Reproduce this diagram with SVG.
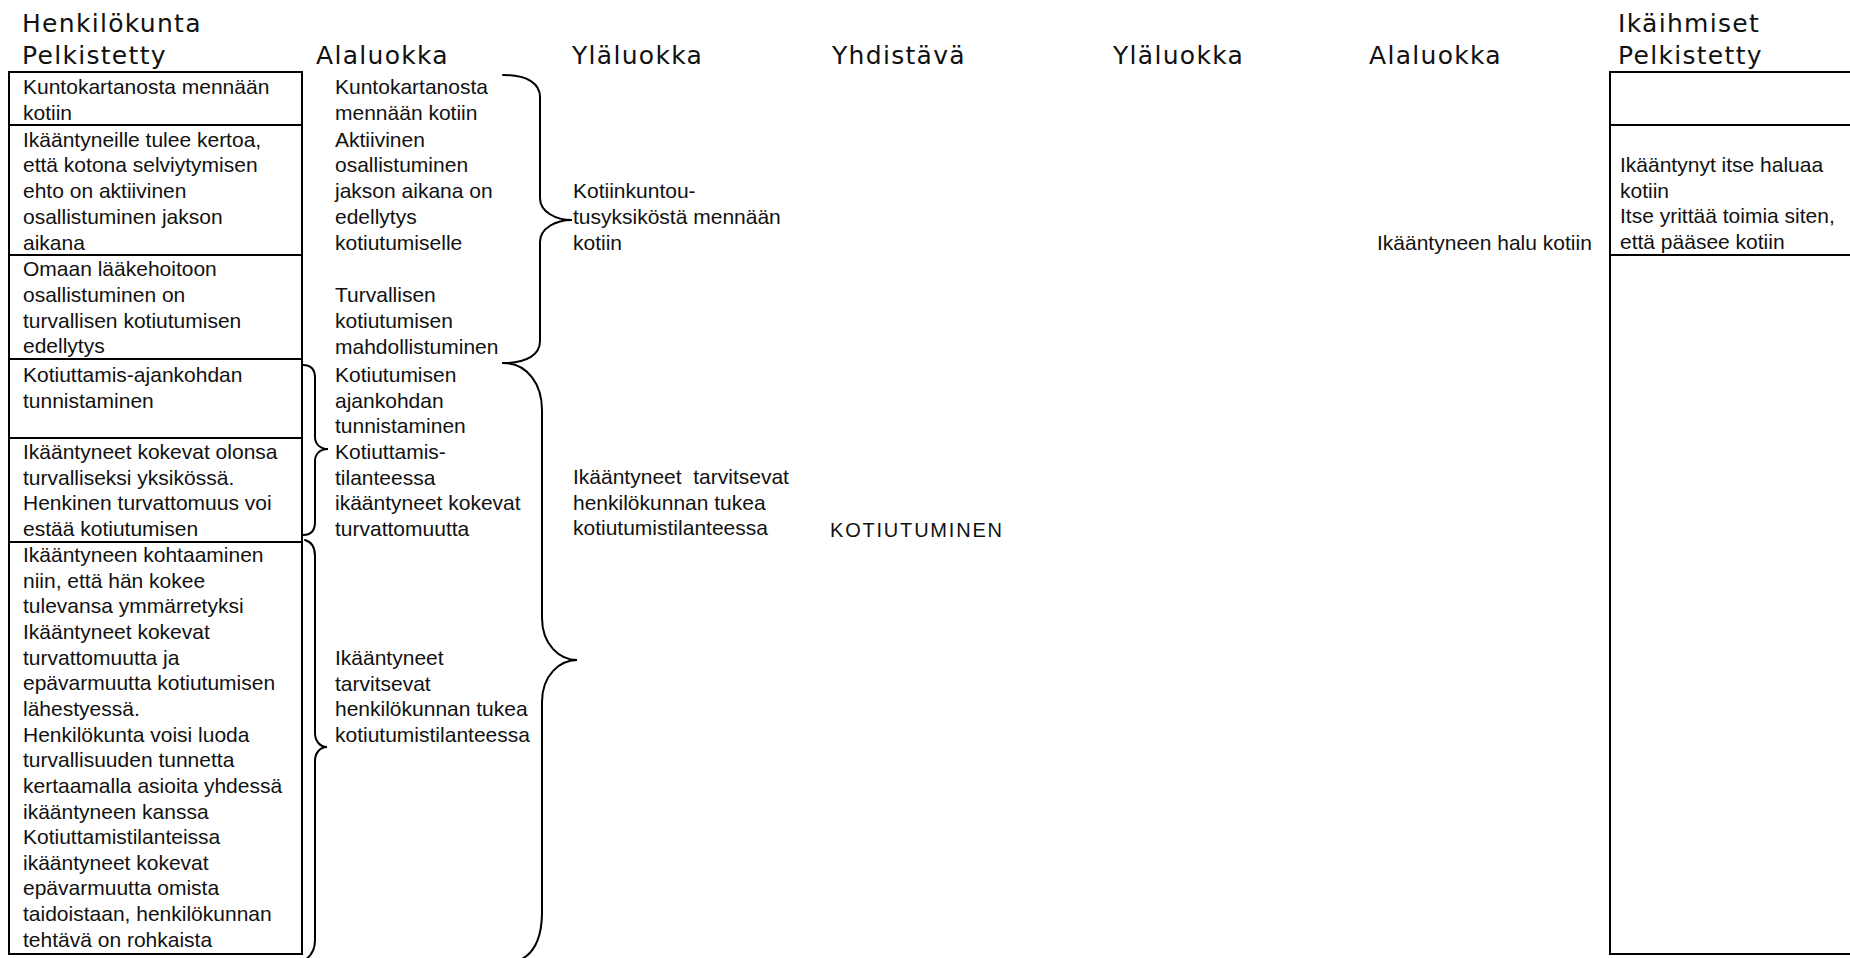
<svg xmlns="http://www.w3.org/2000/svg" width="1850" height="958" viewBox="0 0 1850 958">
  <style>
    .hd { font-family: "DejaVu Sans", "Liberation Sans", sans-serif; font-size: 25px; letter-spacing: 1.3px; fill: #111; }
    .tx { font-family: "Liberation Sans", Arial, sans-serif; font-size: 21px; fill: #111; }
    .caps { font-family: "Liberation Sans", Arial, sans-serif; font-size: 20px; letter-spacing: 1.8px; fill: #111; }
    .cell { fill: none; stroke: #000; stroke-width: 2; }
    .brace { fill: none; stroke: #000; stroke-width: 2; stroke-linecap: round; }
  </style>
  <rect width="1850" height="958" fill="#fff"/>

  <!-- column headings -->
  <g id="headings">
    <text class="hd" x="22" y="32">Henkilökunta</text>
    <text class="hd" x="22" y="64">Pelkistetty</text>
    <text class="hd" x="316" y="64">Alaluokka</text>
    <text class="hd" x="572" y="64">Yläluokka</text>
    <text class="hd" x="832" y="64">Yhdistävä</text>
    <text class="hd" x="1113" y="64">Yläluokka</text>
    <text class="hd" x="1369" y="64">Alaluokka</text>
    <text class="hd" x="1618" y="32">Ikäihmiset</text>
    <text class="hd" x="1618" y="64">Pelkistetty</text>
  </g>

  <!-- staff: reduced expressions table -->
  <g id="staff-row-1">
    <rect class="cell" x="9" y="72" width="293" height="53"/>
    <text class="tx" x="23" y="94">Kuntokartanosta mennään<tspan x="23" dy="25.8">kotiin</tspan></text>
  </g>
  <g id="staff-row-2">
    <rect class="cell" x="9" y="125" width="293" height="130"/>
    <text class="tx" x="23" y="146.5">Ikääntyneille tulee kertoa,<tspan x="23" dy="25.8">että kotona selviytymisen</tspan><tspan x="23" dy="25.8">ehto on aktiivinen</tspan><tspan x="23" dy="25.8">osallistuminen jakson</tspan><tspan x="23" dy="25.8">aikana</tspan></text>
  </g>
  <g id="staff-row-3">
    <rect class="cell" x="9" y="255" width="293" height="104"/>
    <text class="tx" x="23" y="276">Omaan lääkehoitoon<tspan x="23" dy="25.8">osallistuminen on</tspan><tspan x="23" dy="25.8">turvallisen kotiutumisen</tspan><tspan x="23" dy="25.8">edellytys</tspan></text>
  </g>
  <g id="staff-row-4">
    <rect class="cell" x="9" y="359" width="293" height="79"/>
    <text class="tx" x="23" y="382">Kotiuttamis-ajankohdan<tspan x="23" dy="25.7">tunnistaminen</tspan></text>
  </g>
  <g id="staff-row-5">
    <rect class="cell" x="9" y="438" width="293" height="104"/>
    <text class="tx" x="23" y="459">Ikääntyneet kokevat olonsa<tspan x="23" dy="25.7">turvalliseksi yksikössä.</tspan><tspan x="23" dy="25.7">Henkinen turvattomuus voi</tspan><tspan x="23" dy="25.7">estää kotiutumisen</tspan></text>
  </g>
  <g id="staff-row-6">
    <rect class="cell" x="9" y="542" width="293" height="412"/>
    <text class="tx" x="23" y="562">Ikääntyneen kohtaaminen<tspan x="23" dy="25.65">niin, että hän kokee</tspan><tspan x="23" dy="25.65">tulevansa ymmärretyksi</tspan><tspan x="23" dy="25.65">Ikääntyneet kokevat</tspan><tspan x="23" dy="25.65">turvattomuutta ja</tspan><tspan x="23" dy="25.65">epävarmuutta kotiutumisen</tspan><tspan x="23" dy="25.65">lähestyessä.</tspan><tspan x="23" dy="25.65">Henkilökunta voisi luoda</tspan><tspan x="23" dy="25.65">turvallisuuden tunnetta</tspan><tspan x="23" dy="25.65">kertaamalla asioita yhdessä</tspan><tspan x="23" dy="25.65">ikääntyneen kanssa</tspan><tspan x="23" dy="25.65">Kotiuttamistilanteissa</tspan><tspan x="23" dy="25.65">ikääntyneet kokevat</tspan><tspan x="23" dy="25.65">epävarmuutta omista</tspan><tspan x="23" dy="25.65">taidoistaan, henkilökunnan</tspan><tspan x="23" dy="25.65">tehtävä on rohkaista</tspan></text>
  </g>

  <!-- staff: subcategories -->
  <g id="sub-1">
    <text class="tx" x="335" y="94">Kuntokartanosta<tspan x="335" dy="25.8">mennään kotiin</tspan></text>
  </g>
  <g id="sub-2">
    <text class="tx" x="335" y="146.5">Aktiivinen<tspan x="335" dy="25.8">osallistuminen</tspan><tspan x="335" dy="25.8">jakson aikana on</tspan><tspan x="335" dy="25.8">edellytys</tspan><tspan x="335" dy="25.8">kotiutumiselle</tspan></text>
  </g>
  <g id="sub-3">
    <text class="tx" x="335" y="302">Turvallisen<tspan x="335" dy="25.8">kotiutumisen</tspan><tspan x="335" dy="25.8">mahdollistuminen</tspan></text>
  </g>
  <g id="sub-4">
    <text class="tx" x="335" y="382">Kotiutumisen<tspan x="335" dy="25.7">ajankohdan</tspan><tspan x="335" dy="25.7">tunnistaminen</tspan></text>
  </g>
  <g id="sub-5">
    <text class="tx" x="335" y="459">Kotiuttamis-<tspan x="335" dy="25.7">tilanteessa</tspan><tspan x="335" dy="25.7">ikääntyneet kokevat</tspan><tspan x="335" dy="25.7">turvattomuutta</tspan></text>
  </g>
  <g id="sub-6">
    <text class="tx" x="335" y="665">Ikääntyneet<tspan x="335" dy="25.7">tarvitsevat</tspan><tspan x="335" dy="25.7">henkilökunnan tukea</tspan><tspan x="335" dy="25.7">kotiutumistilanteessa</tspan></text>
  </g>

  <!-- staff: main categories -->
  <g id="main-1">
    <text class="tx" x="573" y="198">Kotiinkuntou-<tspan x="573" dy="25.8">tusyksiköstä mennään</tspan><tspan x="573" dy="25.8">kotiin</tspan></text>
  </g>
  <g id="main-2">
    <text class="tx" x="573" y="484" xml:space="preserve">Ikääntyneet  tarvitsevat<tspan x="573" dy="25.7">henkilökunnan tukea</tspan><tspan x="573" dy="25.7">kotiutumistilanteessa</tspan></text>
  </g>

  <!-- combining category -->
  <g id="combining">
    <text class="caps" x="830" y="537">KOTIUTUMINEN</text>
  </g>

  <!-- elderly side -->
  <g id="elderly-sub">
    <text class="tx" x="1377" y="250">Ikääntyneen halu kotiin</text>
  </g>
  <g id="elderly-row-1">
    <rect class="cell" x="1610" y="72" width="260" height="53"/>
  </g>
  <g id="elderly-row-2">
    <rect class="cell" x="1610" y="125" width="260" height="130"/>
    <text class="tx" x="1620" y="172">Ikääntynyt itse haluaa<tspan x="1620" dy="25.6">kotiin</tspan><tspan x="1620" dy="25.6">Itse yrittää toimia siten,</tspan><tspan x="1620" dy="25.6">että pääsee kotiin</tspan></text>
  </g>
  <g id="elderly-row-3">
    <rect class="cell" x="1610" y="255" width="260" height="699"/>
  </g>

  <!-- grouping braces -->
  <g id="connectors">
    <path class="brace" d="M503,75 C528,75 540,84 540,97 L540,198 C540,212 556,220 572,220 C556,220 540,228 540,242 L540,341 C540,354 528,363 503,363"/>
    <path class="brace" d="M503,363 C528,363 542,385 542,410 L542,618 C542,645 560,660 577,660 C560,660 542,675 542,702 L542,912 C542,936 535,953 520,960"/>
    <path class="brace" d="M303,365 C311,365 315,370 315,378 L315,437 C315,444 320,449 328,449 C320,449 315,454 315,461 L315,522 C315,530 311,535 303,535"/>
    <path class="brace" d="M305,540 C312,542 315,548 315,556 L315,733 C315,741 320,747 327,747 C320,747 315,753 315,761 L315,940 C315,950 311,956 305,960"/>
  </g>
</svg>
